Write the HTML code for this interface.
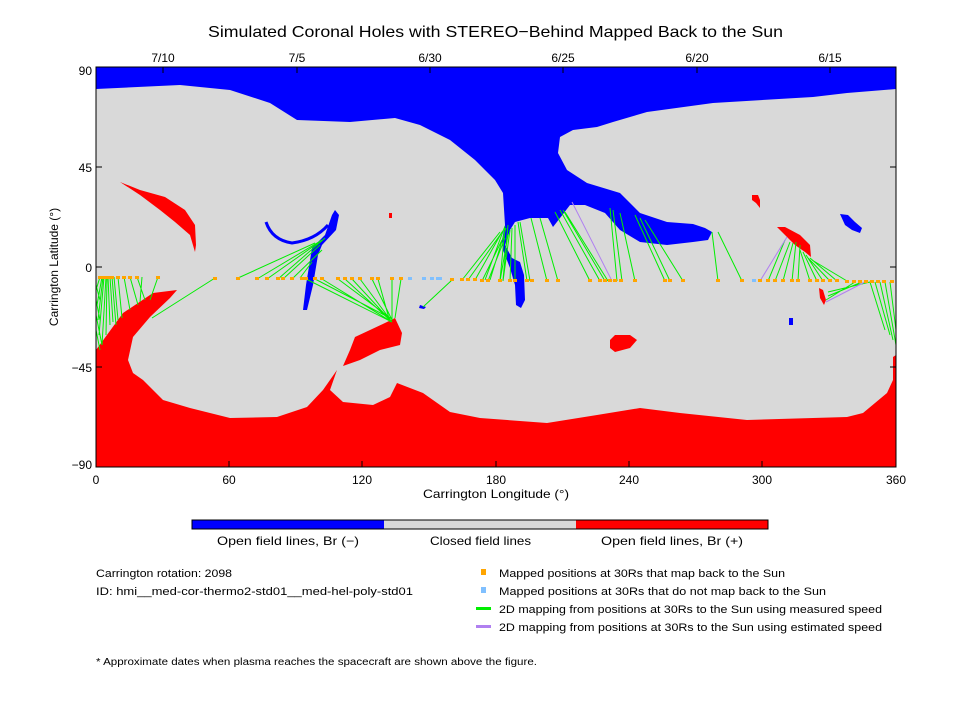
<!DOCTYPE html>
<html><head><meta charset="utf-8"><style>
html,body{margin:0;padding:0;background:#fff;}
svg{display:block;font-family:"Liberation Sans",sans-serif;}
</style></head><body>
<svg width="960" height="720" viewBox="0 0 960 720" xmlns="http://www.w3.org/2000/svg">
<rect width="960" height="720" fill="#fff"/>
<text x="208" y="37" font-size="16" textLength="575" lengthAdjust="spacingAndGlyphs" fill="#000">Simulated Coronal Holes with STEREO−Behind Mapped Back to the Sun</text>
<defs><clipPath id="c"><rect x="96" y="67" width="800" height="400"/></clipPath></defs>
<g clip-path="url(#c)">
<rect x="96" y="67" width="800" height="400" fill="#d9d9d9"/>
<path fill="#0000ff" d="M96,67 L896,67 L896,89 L847,93 L813,97 L713,103 L647,112 L613,122 L597,127 L573,130 L560,137 L558,153 L567,170 L587,183 L620,193 L640,213 L667,222 L693,224 L705,228 L712,232 L708,240 L693,242 L667,245 L640,242 L620,230 L605,213 L585,205 L570,205 L560,218 L553,227 L548,218 L530,218 L515,222 L510,230 L505,245 L512,258 L520,262 L524,275 L525,300 L521,308 L516,305 L515,285 L510,268 L503,250 L502,240 L505,225 L503,193 L495,180 L475,160 L450,140 L420,125 L395,118 L350,122 L297,120 L270,103 L230,90 L180,85 L96,89 Z"/>
<path fill="#ff0000" d="M96,467 L96,350 L123,313 L153,293 L177,290 L170,298 L150,317 L133,337 L128,360 L133,373 L143,380 L163,400 L190,408 L230,418 L277,417 L307,407 L323,390 L337,370 L330,390 L343,402 L373,405 L390,397 L397,383 L423,393 L450,412 L480,418 L547,423 L597,415 L640,408 L680,413 L747,420 L847,417 L863,413 L887,393 L893,380 L893,357 L896,355 L896,467 Z"/>
<path fill="#ff0000" d="M343,366 L350,350 L355,337 L370,330 L387,322 L395,318 L402,333 L400,345 L380,350 L360,360 Z"/>
<path fill="#ff0000" d="M120,182 L140,190 L165,197 L185,210 L195,225 L196,245 L195,252 L190,235 L175,222 L160,210 L140,195 Z"/>
<rect x="389" y="213" width="3" height="5" fill="#ff0000"/>
<path fill="#ff0000" d="M610,340 L615,335 L630,335 L637,340 L630,348 L615,352 L610,348 Z"/>
<path fill="#ff0000" d="M752,195 L758,195 L760,200 L760,208 L756,203 L752,200 Z"/>
<path fill="#ff0000" d="M777,227 L785,227 L800,235 L810,245 L811,257 L805,252 L795,245 L785,235 Z"/>
<path fill="#ff0000" d="M819,288 L823,290 L826,300 L824,305 L820,298 Z"/>
<path fill="none" stroke="#0000ff" stroke-width="3" d="M266,222 Q272,240 292,243 Q315,240 328,225"/>
<path fill="#0000ff" d="M312,248 L325,235 L332,215 L335,210 L339,215 L336,230 L322,245 L318,255 L313,285 L307,310 L303,310 L306,285 Z"/>
<path fill="#0000ff" d="M840,214 L848,215 L855,222 L862,228 L860,233 L852,230 L845,225 Z"/>
<rect x="789" y="318" width="4" height="7" fill="#0000ff"/>
<path fill="#0000ff" d="M420,305 L426,307 L424,309 L419,308 Z"/>
<path fill="none" stroke="#00ee00" stroke-width="1" d="
M100,277 L96,290 M102,277 L97,305 M103,277 L98,320 M104,277 L99,335 M106,277 L102,345 M107,277 L106,335 M108,277 L110,325 M110,277 L113,322 M112,277 L116,325 M114,277 L118,320 M118,277 L122,318 M124,277 L130,310 M130,277 L138,305 M137,277 L145,300 M142,277 L140,302 M158,277 L150,300
M96,285 L100,300 M96,300 L100,320 M96,315 L102,345 M96,330 L100,350
M215,278 L152,318
M238,278 L315,243 M257,279 L322,240 M267,279 L318,243 M278,279 L325,238 M283,279 L320,245 M292,279 L322,250 M300,278 L312,262
M306,279 L392,322 M315,279 L390,318 M322,279 L392,322 M338,279 L393,320 M345,279 L392,322 M352,279 L390,320 M360,279 L392,322 M372,279 L392,320 M378,279 L390,322 M392,279 L392,320 M401,279 L395,318
M452,280 L423,307
M462,280 L500,232 M468,280 L505,228 M475,280 L502,232 M485,280 L505,226 M490,280 L506,228 M500,280 L505,228 M503,280 L508,225
M482,281 L502,240 M488,281 L505,238 M500,281 L508,235 M503,281 L510,230 M510,281 L512,228 M515,281 L515,225 M527,281 L518,222 M530,281 L520,222 M547,281 L531,218 M558,281 L540,218
M590,281 L555,212 M600,281 L560,210 M605,281 L563,210 M608,281 L565,212 M617,281 L610,208 M622,281 L613,210 M635,281 L620,213
M665,281 L635,215 M670,281 L640,218 M683,281 L645,220
M718,281 L712,232 M742,281 L718,232
M768,281 L785,240 M775,281 L790,242 M783,281 L793,243 M792,281 L796,242 M798,281 L800,245
M810,281 L800,250 M817,281 L803,252 M823,281 L806,255 M830,281 L808,258 M837,281 L810,258 M847,281 L812,260
M855,282 L826,300 M862,282 L828,296 M870,282 L828,292
M870,282 L885,330 M875,282 L890,335 M880,282 L893,340 M885,282 L896,345 M890,282 L896,330"/>
<path fill="none" stroke="#b080f0" stroke-width="1" d="M612,281 L572,202 M760,281 L787,237 M865,282 L826,302"/>
<g fill="#ffa500">
<rect x="98" y="276" width="4" height="3"/><rect x="102" y="276" width="4" height="3"/><rect x="106" y="276" width="4" height="3"/><rect x="110" y="276" width="4" height="3"/><rect x="116" y="276" width="4" height="3"/><rect x="122" y="276" width="4" height="3"/><rect x="128" y="276" width="4" height="3"/><rect x="135" y="276" width="4" height="3"/><rect x="156" y="276" width="4" height="3"/><rect x="213" y="277" width="4" height="3"/><rect x="236" y="277" width="4" height="3"/><rect x="255" y="277" width="4" height="3"/><rect x="265" y="277" width="4" height="3"/><rect x="276" y="277" width="4" height="3"/><rect x="281" y="277" width="4" height="3"/><rect x="290" y="277" width="4" height="3"/><rect x="300" y="277" width="4" height="3"/><rect x="304" y="277" width="4" height="3"/><rect x="313" y="277" width="4" height="3"/><rect x="320" y="277" width="4" height="3"/><rect x="336" y="277" width="4" height="3"/><rect x="343" y="277" width="4" height="3"/><rect x="350" y="277" width="4" height="3"/><rect x="358" y="277" width="4" height="3"/><rect x="370" y="277" width="4" height="3"/><rect x="376" y="277" width="4" height="3"/><rect x="390" y="277" width="4" height="3"/><rect x="399" y="277" width="4" height="3"/><rect x="450" y="278" width="4" height="3"/><rect x="460" y="278" width="4" height="3"/><rect x="466" y="278" width="4" height="3"/><rect x="473" y="278" width="4" height="3"/><rect x="480" y="279" width="4" height="3"/><rect x="486" y="279" width="4" height="3"/><rect x="498" y="279" width="4" height="3"/><rect x="508" y="279" width="4" height="3"/><rect x="513" y="279" width="4" height="3"/><rect x="525" y="279" width="4" height="3"/><rect x="530" y="279" width="4" height="3"/><rect x="545" y="279" width="4" height="3"/><rect x="556" y="279" width="4" height="3"/><rect x="588" y="279" width="4" height="3"/><rect x="598" y="279" width="4" height="3"/><rect x="603" y="279" width="4" height="3"/><rect x="608" y="279" width="4" height="3"/><rect x="613" y="279" width="4" height="3"/><rect x="619" y="279" width="4" height="3"/><rect x="633" y="279" width="4" height="3"/><rect x="663" y="279" width="4" height="3"/><rect x="668" y="279" width="4" height="3"/><rect x="681" y="279" width="4" height="3"/><rect x="716" y="279" width="4" height="3"/><rect x="740" y="279" width="4" height="3"/><rect x="758" y="279" width="4" height="3"/><rect x="766" y="279" width="4" height="3"/><rect x="773" y="279" width="4" height="3"/><rect x="781" y="279" width="4" height="3"/><rect x="790" y="279" width="4" height="3"/><rect x="796" y="279" width="4" height="3"/><rect x="808" y="279" width="4" height="3"/><rect x="815" y="279" width="4" height="3"/><rect x="821" y="279" width="4" height="3"/><rect x="828" y="279" width="4" height="3"/><rect x="835" y="279" width="4" height="3"/><rect x="845" y="280" width="4" height="3"/><rect x="852" y="280" width="4" height="3"/><rect x="858" y="280" width="4" height="3"/><rect x="864" y="280" width="4" height="3"/><rect x="870" y="280" width="4" height="3"/><rect x="876" y="280" width="4" height="3"/><rect x="882" y="280" width="4" height="3"/><rect x="890" y="280" width="4" height="3"/>
</g>
<g fill="#80c0ff">
<rect x="408" y="277" width="4" height="3"/><rect x="422" y="277" width="4" height="3"/><rect x="430" y="277" width="4" height="3"/><rect x="436" y="277" width="6" height="3"/><rect x="752" y="279" width="4" height="3"/>
</g>
</g>
<rect x="96" y="67" width="800" height="400" fill="none" stroke="#000" stroke-width="1"/>
<path stroke="#000" stroke-width="1" d="M96,167 h6 M96,267 h6 M96,367 h6 M896,167 h-6 M896,267 h-6 M896,367 h-6
M229,467 v-6 M362,467 v-6 M496,467 v-6 M629,467 v-6 M762,467 v-6
M163,67 v6 M297,67 v6 M430,67 v6 M563,67 v6 M697,67 v6 M830,67 v6"/>
<g font-size="12" fill="#000">
<g text-anchor="end"><text x="92" y="75">90</text><text x="92" y="172">45</text><text x="92" y="272">0</text><text x="92" y="372">−45</text><text x="92" y="469">−90</text></g>
<g text-anchor="middle"><text x="96" y="484">0</text><text x="229" y="484">60</text><text x="362" y="484">120</text><text x="496" y="484">180</text><text x="629" y="484">240</text><text x="762" y="484">300</text><text x="896" y="484">360</text>
<text x="163" y="62">7/10</text><text x="297" y="62">7/5</text><text x="430" y="62">6/30</text><text x="563" y="62">6/25</text><text x="697" y="62">6/20</text><text x="830" y="62">6/15</text></g>
<text x="423" y="498" textLength="146" lengthAdjust="spacingAndGlyphs">Carrington Longitude (°)</text>
<text x="58" y="267" text-anchor="middle" transform="rotate(-90 58 267)">Carrington Latitude (°)</text>
</g>
<rect x="192" y="520" width="192" height="9" fill="#0000ff"/>
<rect x="384" y="520" width="192" height="9" fill="#d9d9d9"/>
<rect x="576" y="520" width="192" height="9" fill="#ff0000"/>
<rect x="192" y="520" width="576" height="9" fill="none" stroke="#000"/>
<g font-size="12" fill="#000">
<text x="217" y="545" textLength="142" lengthAdjust="spacingAndGlyphs">Open field lines, Br (−)</text>
<text x="430" y="545" textLength="101" lengthAdjust="spacingAndGlyphs">Closed field lines</text>
<text x="601" y="545" textLength="142" lengthAdjust="spacingAndGlyphs">Open field lines, Br (+)</text>
</g>
<g font-size="11" fill="#000">
<text x="96" y="577" textLength="136" lengthAdjust="spacingAndGlyphs">Carrington rotation: 2098</text>
<text x="96" y="595" textLength="317" lengthAdjust="spacingAndGlyphs">ID: hmi__med-cor-thermo2-std01__med-hel-poly-std01</text>
<text x="499" y="577" textLength="286" lengthAdjust="spacingAndGlyphs">Mapped positions at 30Rs that map back to the Sun</text>
<text x="499" y="595" textLength="327" lengthAdjust="spacingAndGlyphs">Mapped positions at 30Rs that do not map back to the Sun</text>
<text x="499" y="613" textLength="383" lengthAdjust="spacingAndGlyphs">2D mapping from positions at 30Rs to the Sun using measured speed</text>
<text x="499" y="631" textLength="383" lengthAdjust="spacingAndGlyphs">2D mapping from positions at 30Rs to the Sun using estimated speed</text>
<text x="96" y="665" font-size="10" textLength="441" lengthAdjust="spacingAndGlyphs">* Approximate dates when plasma reaches the spacecraft are shown above the figure.</text>
</g>
<rect x="481" y="569" width="5" height="6" fill="#ffa500"/>
<rect x="481" y="587" width="5" height="6" fill="#80c0ff"/>
<rect x="476" y="607" width="15" height="3" fill="#00ee00"/>
<rect x="476" y="625" width="15" height="3" fill="#b080f0"/>
</svg>
</body></html>
